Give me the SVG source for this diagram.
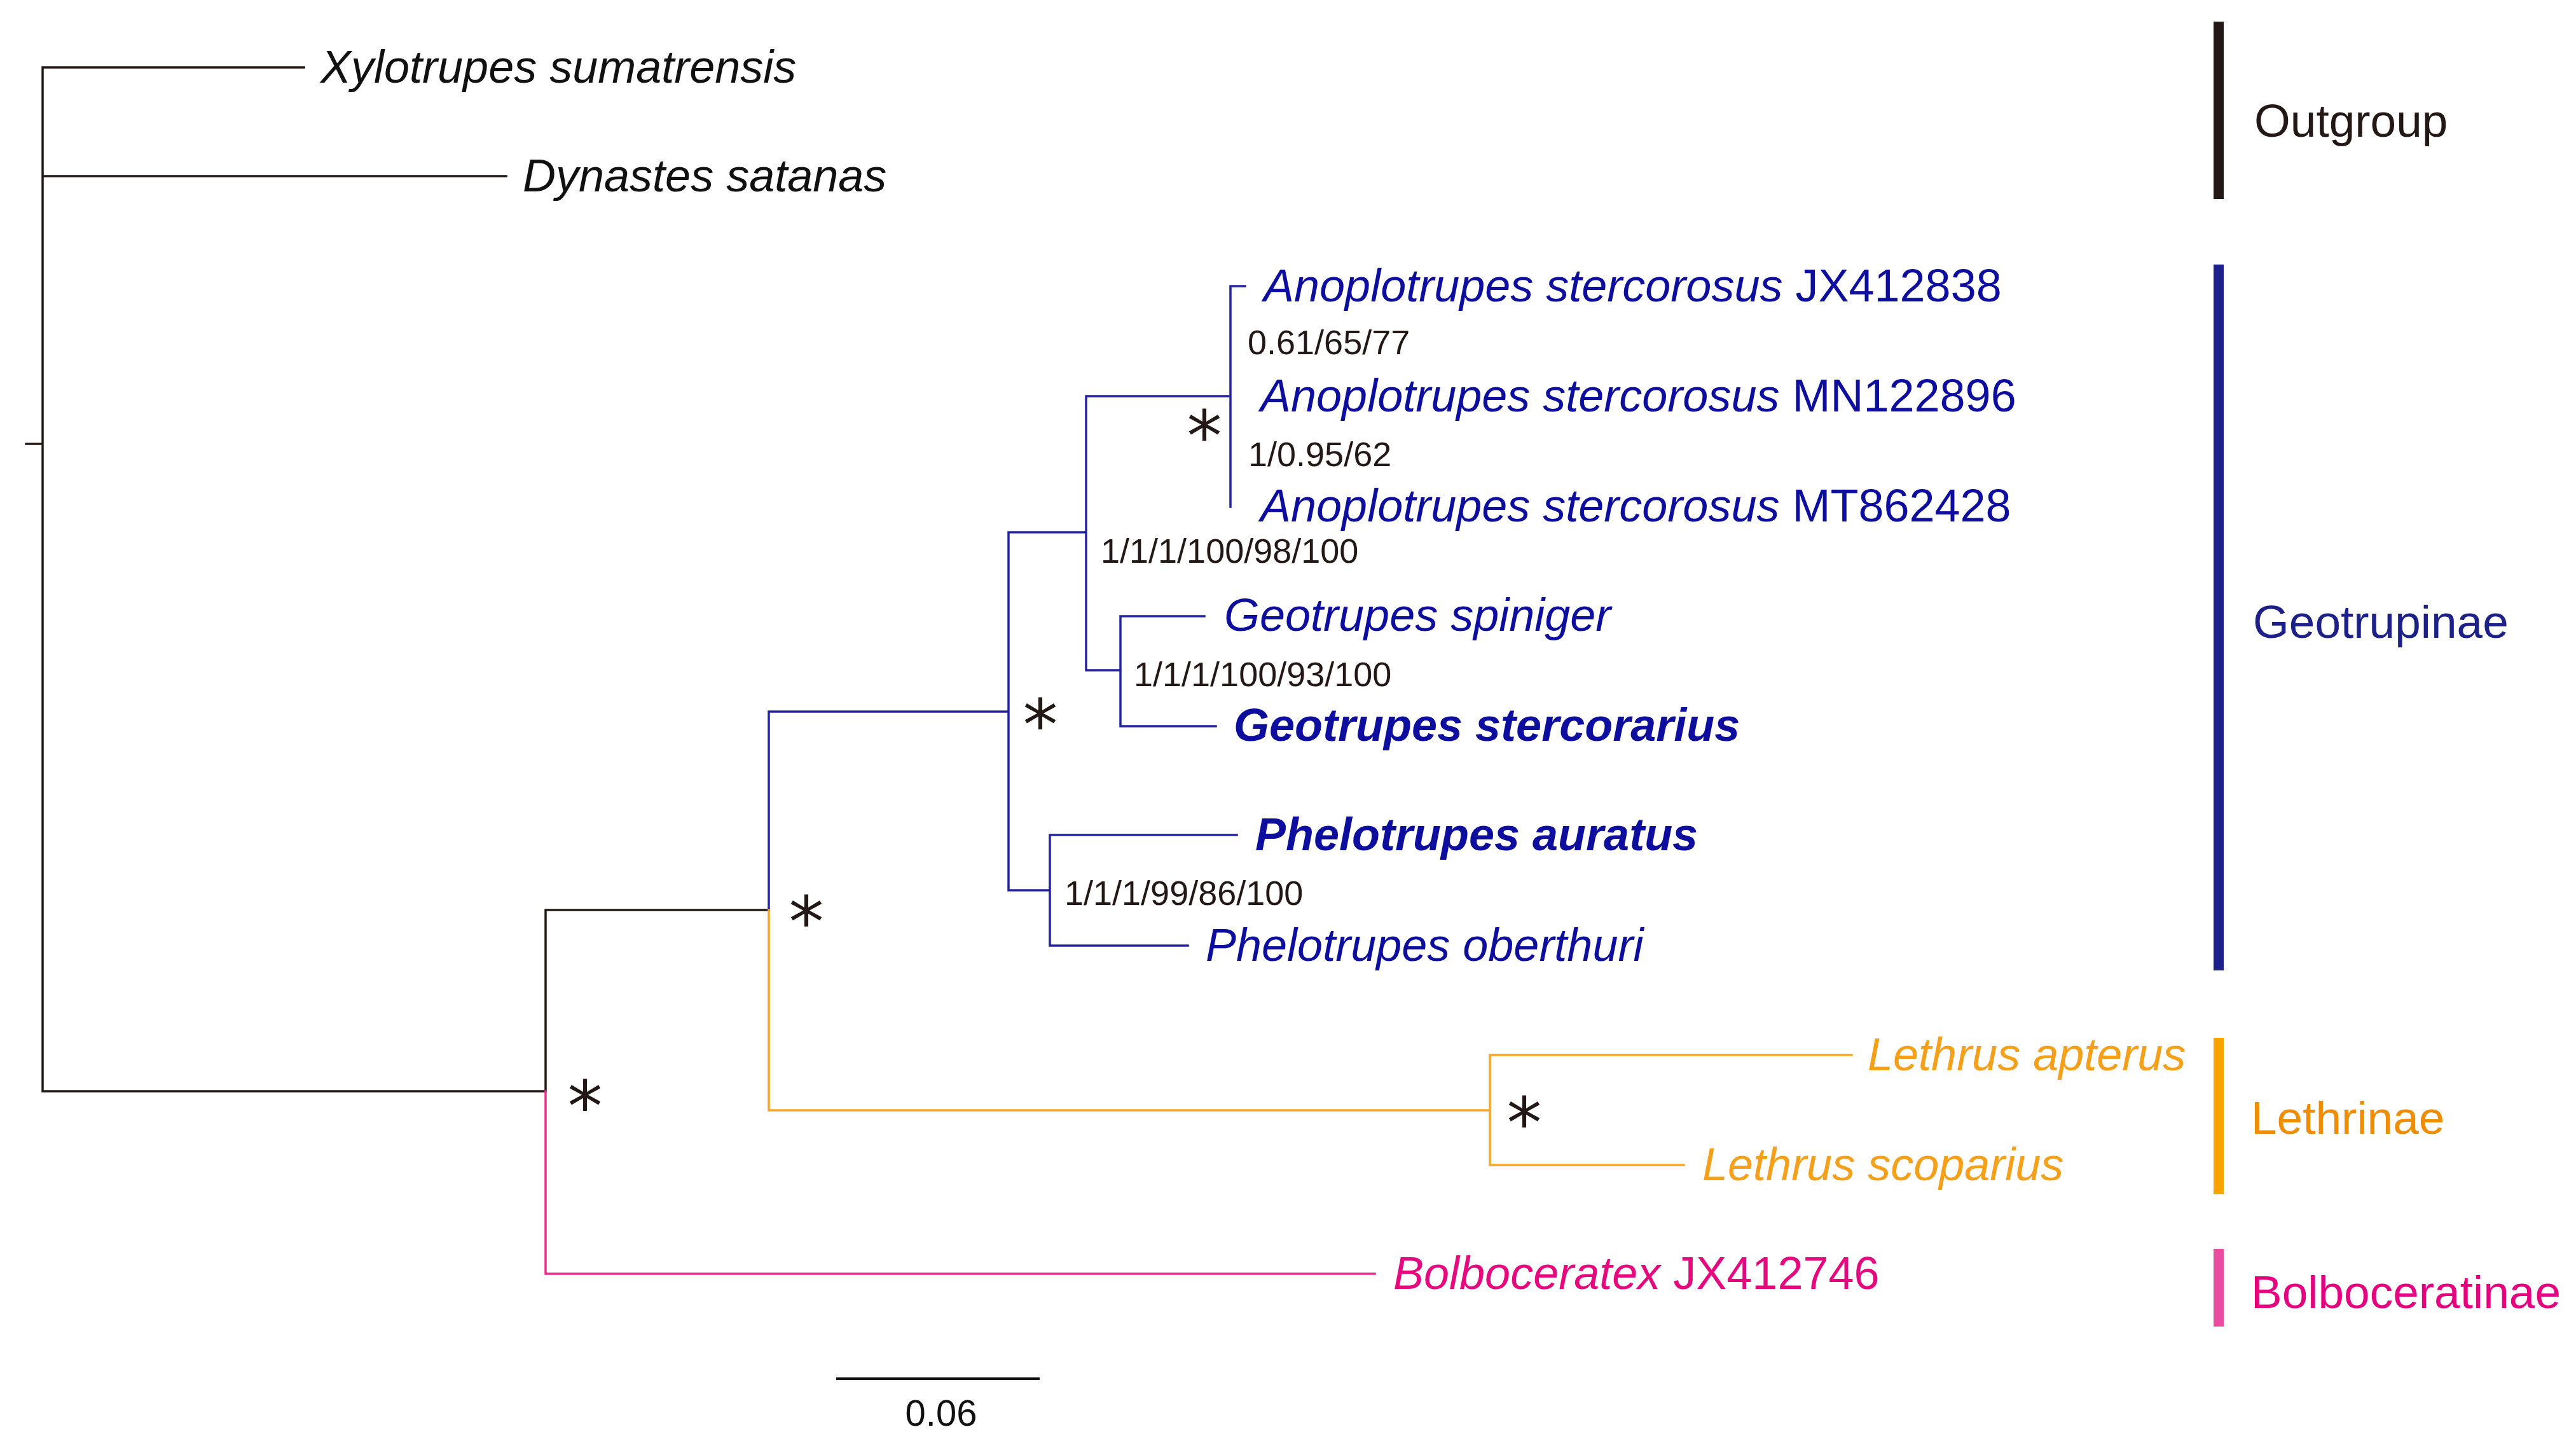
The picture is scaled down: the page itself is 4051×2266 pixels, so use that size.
<svg xmlns="http://www.w3.org/2000/svg" width="4051" height="2266" viewBox="0 0 4051 2266">
<style>
.tx{font-family:"Liberation Sans",Arial,sans-serif;font-size:72px;font-style:italic}
.b{font-weight:bold}
.up{font-style:normal}
.sup{font-family:"Liberation Sans",Arial,sans-serif;font-size:54px;fill:#231815}
.ast{font-family:"DejaVu Sans",sans-serif;font-size:110px;fill:#231815;text-anchor:middle}
.clade{font-family:"Liberation Sans",Arial,sans-serif;font-size:73px}
.k{stroke:#231815}
.bl{stroke:#2323A0}
.or{stroke:#F7A52A}
.pk{stroke:#E8308F}
.br{fill:none;stroke-width:3.5;stroke-linecap:square}
.blue{fill:#0D0D9E}
.orange{fill:#F5A01A}
.pink{fill:#E5097F}
.black{fill:#111}
</style>
<rect width="4051" height="2266" fill="#fff"/>
<g id="connectors">
<path class="br k" d="M41 698H67M67 106V1716M67 106H478M67 277H796M67 1716H858M858 1431V1716M858 1431H1209"/>
<path class="br pk" d="M858 1716V2003H2162"/>
<path class="br bl" d="M1209 1431V1119H1586M1586 837V1400M1586 837H1708M1708 623V1054M1708 623H1935M1935 450V797M1935 450H1958M1708 1054H1762M1762 969V1142M1762 969H1894M1762 1142H1912M1586 1400H1651M1651 1313V1487M1651 1313H1945M1651 1487H1868"/>
<path class="br or" d="M1209 1431V1746H2343M2343 1659V1832M2343 1659H2912M2343 1832H2648"/>
</g>
<g id="taxa">
<g id="xylotrupes"><text class="tx black" x="504" y="130">Xylotrupes sumatrensis</text></g>
<g id="dynastes"><text class="tx black" x="822" y="301">Dynastes satanas</text></g>
<g id="anoplo1"><text class="tx blue" x="1987" y="474">Anoplotrupes stercorosus<tspan class="up"> JX412838</tspan></text></g>
<g id="anoplo2"><text class="tx blue" x="1982" y="647">Anoplotrupes stercorosus<tspan class="up"> MN122896</tspan></text></g>
<g id="anoplo3"><text class="tx blue" x="1982" y="820">Anoplotrupes stercorosus<tspan class="up"> MT862428</tspan></text></g>
<g id="geo-spiniger"><text class="tx blue" x="1925" y="992">Geotrupes spiniger</text></g>
<g id="geo-stercorarius"><text class="tx b blue" x="1940" y="1165">Geotrupes stercorarius</text></g>
<g id="phelo-auratus"><text class="tx b blue" x="1974" y="1337">Phelotrupes auratus</text></g>
<g id="phelo-oberthuri"><text class="tx blue" x="1896" y="1511">Phelotrupes oberthuri</text></g>
<g id="lethrus-apterus"><text class="tx orange" x="2937" y="1683">Lethrus apterus</text></g>
<g id="lethrus-scoparius"><text class="tx orange" x="2677" y="1856">Lethrus scoparius</text></g>
<g id="bolboceratex"><text class="tx pink" x="2191" y="2027">Bolboceratex<tspan class="up"> JX412746</tspan></text></g>
</g>
<g id="support">
<text class="sup" x="1962" y="557">0.61/65/77</text>
<text class="sup" x="1963" y="733">1/0.95/62</text>
<text class="sup" x="1731" y="885">1/1/1/100/98/100</text>
<text class="sup" x="1783" y="1079">1/1/1/100/93/100</text>
<text class="sup" x="1674" y="1423">1/1/1/99/86/100</text>
<text class="ast" x="1894" y="725">*</text>
<text class="ast" x="1636" y="1179">*</text>
<text class="ast" x="1268" y="1489">*</text>
<text class="ast" x="920" y="1779">*</text>
<text class="ast" x="2397" y="1805">*</text>
</g>
<g id="clades">
<g id="outgroup"><rect x="3481" y="34" width="16" height="279" fill="#231815"/><text class="clade" x="3545" y="215" fill="#231815">Outgroup</text></g>
<g id="geotrupinae"><rect x="3481" y="416" width="16" height="1110" fill="#1D2088"/><text class="clade" x="3543" y="1003" fill="#1D2088">Geotrupinae</text></g>
<g id="lethrinae"><rect x="3481" y="1632" width="16" height="246" fill="#F8A400"/><text class="clade" x="3540" y="1783" fill="#F08C00">Lethrinae</text></g>
<g id="bolboceratinae"><rect x="3481" y="1964" width="16" height="122" fill="#EA4C9F"/><text class="clade" x="3540" y="2057" fill="#E4007F">Bolboceratinae</text></g>
</g>
<g id="scale">
<path d="M1315 2168H1635" stroke="#111" stroke-width="4"/>
<text x="1480" y="2242" font-family="Liberation Sans, Arial, sans-serif" font-size="58" text-anchor="middle" fill="#111">0.06</text>
</g>
</svg>
